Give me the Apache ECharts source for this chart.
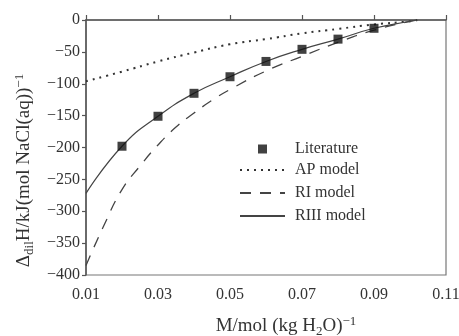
<!DOCTYPE html>
<html>
<head>
<meta charset="utf-8">
<script src="https://cdn.jsdelivr.net/npm/echarts@6/dist/echarts.min.js"></script>
<style>
  html, body { margin: 0; padding: 0; background: #fff; }
  #chart { width: 459px; height: 336px; }
</style>
</head>
<body>
<div id="chart"></div>
<script>
// 文献数据点
const litX = [0.02, 0.03, 0.04, 0.05, 0.06, 0.07, 0.08, 0.09];
const litY = [-198, -151, -115, -89, -65, -46, -30, -13];

// AP 模型 (点线)
const apX = [0.01, 0.02, 0.03, 0.04, 0.05, 0.06, 0.07, 0.08, 0.09, 0.10, 0.102];
const apY = [-96, -81, -65, -51, -38, -30, -21, -14, -7, -2, 0];

// RI 模型 (虚线)
const riX = [0.01, 0.015, 0.02, 0.025, 0.03, 0.035, 0.04, 0.045, 0.05, 0.06, 0.07, 0.08, 0.09, 0.10, 0.102];
const riY = [-385, -322, -266, -229, -196, -168, -146, -126, -109, -80, -57, -35, -16, -2, 0];

// RIII 模型 (实线)
const r3X = [0.01, 0.02, 0.03, 0.04, 0.05, 0.06, 0.07, 0.08, 0.09, 0.10, 0.102];
const r3Y = [-272, -198, -151, -115, -89, -65, -46, -30, -13, -2, 0];

const xTicks = [0.01, 0.03, 0.05, 0.07, 0.09, 0.11];
const yTicks = [0, -50, -100, -150, -200, -250, -300, -350, -400];

const zip = (xs, ys) => xs.map((x, i) => [x, ys[i]]);

const FONT = '"Liberation Serif", "DejaVu Serif", serif';
const AXIS_COLOR = '#555';
const LINE_COLOR = '#333';
const TEXT_COLOR = '#333';

const nameRich = {
    n: { fontFamily: FONT, fontSize: 19, color: TEXT_COLOR },
    sub: { fontFamily: FONT, fontSize: 13, color: TEXT_COLOR, verticalAlign: 'bottom', padding: [10, 0, 0, 0] },
    sup: { fontFamily: FONT, fontSize: 13, color: TEXT_COLOR, verticalAlign: 'top', padding: [0, 0, 10, 0] }
};

const chart = echarts.init(document.getElementById('chart'));

const option = {
    animation: false,
    backgroundColor: '#fff',
    grid: {
        left: 86,
        right: 13,
        top: 20,
        bottom: 61,
        outerBoundsMode: 'none',
        containLabel: false,
        show: true,
        borderColor: '#777',
        borderWidth: 1.2
    },
    xAxis: {
        type: 'value',
        min: xTicks[0],
        max: xTicks[xTicks.length - 1],
        interval: 0.02,
        axisLine: { lineStyle: { color: AXIS_COLOR, width: 1.5 } },
        axisTick: { inside: true, length: 5, lineStyle: { color: AXIS_COLOR, width: 1.2 } },
        splitLine: { show: false },
        axisLabel: {
            color: TEXT_COLOR,
            fontFamily: FONT,
            fontSize: 16,
            margin: 12,
            formatter: v => v.toFixed(2)
        },
        name: '{n|M/mol (kg H}{sub|2}{n|O)}{sup|−1}',
        nameLocation: 'middle',
        nameGap: 40,
        nameTextStyle: { padding: [0, 0, 0, 40], rich: nameRich }
    },
    yAxis: {
        type: 'value',
        min: yTicks[yTicks.length - 1],
        max: yTicks[0],
        interval: 50,
        axisLine: { show: true, lineStyle: { color: AXIS_COLOR, width: 1.5 } },
        axisTick: { show: true, length: 4, lineStyle: { color: AXIS_COLOR, width: 1.2 } },
        splitLine: { show: false },
        axisLabel: {
            color: TEXT_COLOR,
            fontFamily: FONT,
            fontSize: 16,
            margin: 6,
            formatter: v => String(v).replace('-', '−')
        },
        name: '{n|Δ}{sub|dil}{n|H/kJ(mol NaCl(aq))}{sup|−1}',
        nameLocation: 'middle',
        nameRotate: 90,
        nameGap: 50,
        nameTextStyle: { padding: [0, 46, 0, 0], rich: nameRich }
    },
    legend: [
        {
            // 文献点图例
            orient: 'vertical',
            left: 253,
            top: 136,
            itemWidth: 9,
            itemHeight: 9,
            textStyle: { fontFamily: FONT, fontSize: 16, color: TEXT_COLOR, padding: [0, 0, 0, 23] },
            data: ['Literature']
        },
        {
            // 模型曲线图例
            orient: 'vertical',
            left: 234,
            top: 157,
            itemWidth: 45,
            itemHeight: 10,
            itemGap: 7,
            itemStyle: { opacity: 0 },
            textStyle: { fontFamily: FONT, fontSize: 16, color: TEXT_COLOR, padding: [0, 0, 0, 5] },
            data: ['AP model', 'RI model', 'RIII model']
        }
    ],
    series: [
        {
            name: 'AP model',
            type: 'line',
            smooth: true,
            symbol: 'none',
            data: zip(apX, apY),
            lineStyle: { color: LINE_COLOR, width: 2, type: [2, 5] },
            itemStyle: { color: LINE_COLOR },
            z: 2
        },
        {
            name: 'RI model',
            type: 'line',
            smooth: true,
            symbol: 'none',
            data: zip(riX, riY),
            lineStyle: { color: '#444', width: 1.3, type: [11, 9] },
            itemStyle: { color: '#444' },
            z: 2
        },
        {
            name: 'RIII model',
            type: 'line',
            smooth: true,
            symbol: 'none',
            data: zip(r3X, r3Y),
            lineStyle: { color: '#444', width: 1.2 },
            itemStyle: { color: '#444' },
            z: 3
        },
        {
            name: 'Literature',
            type: 'scatter',
            symbol: 'rect',
            symbolSize: 9,
            data: zip(litX, litY),
            itemStyle: { color: '#111' },
            z: 4
        }
    ]
};

chart.setOption(option);
</script>
</body>
</html>
